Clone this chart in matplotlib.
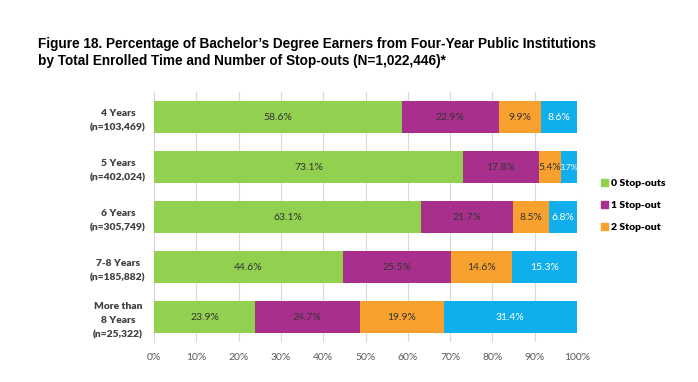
import numpy as np
import matplotlib
matplotlib.use('Agg')
import matplotlib.pyplot as plt
from matplotlib.patches import Patch

# data
categories = ['4 Years\n(n=103,469)', '5 Years\n(n=402,024)', '6 Years\n(n=305,749)',
              '7-8 Years\n(n=185,882)', 'More than\n8 Years\n(n=25,322)']
zero_stop = [58.6, 73.1, 63.1, 44.6, 23.9]
one_stop = [22.9, 17.8, 21.7, 25.5, 24.7]
two_stop = [9.9, 5.4, 8.5, 14.6, 19.9]
three_plus = [8.6, 3.7, 6.8, 15.3, 31.4]
series_names = ['0 Stop-outs', '1 Stop-out', '2 Stop-out', '3+ Stop-outs']
colors = ['#92D050', '#A8308C', '#F9A12E', '#10AEEC']
text_colors = ['#333333', '#333333', '#333333', '#FFFFFF']

body_font = ['Lato', 'DejaVu Sans']
title_font = ['Liberation Sans Narrow', 'Liberation Sans', 'DejaVu Sans']

fig = plt.figure(figsize=(6.98, 3.82), dpi=100)
ax = fig.add_axes([154/698, 1 - 342/382, (577-154)/698, (342-92)/382])

y = np.arange(len(categories))
left = np.zeros(len(categories))
for vals, col, tcol, name in zip([zero_stop, one_stop, two_stop, three_plus], colors, text_colors, series_names):
    vals = np.array(vals)
    bars = ax.barh(y, vals, left=left, height=0.64, color=col, label=name, zorder=3)
    for b, v in zip(bars, vals):
        # narrow segments get a smaller label, like the squeezed ones in the original
        fs = 7.5 if v >= 5 else 6.0
        ax.text(b.get_x() + b.get_width()/2, b.get_y() + b.get_height()/2, f'{v:.1f}%',
                ha='center', va='center', fontsize=fs, color=tcol, family=body_font, zorder=4)
    left += vals

ax.set_xlim(0, 100)
ax.set_ylim(4.5, -0.5)
ax.set_xticks(np.arange(0, 101, 10))
ax.set_xticklabels([f'{t}%' for t in range(0, 101, 10)], fontsize=7.5, color='#595959', family=body_font)
ax.set_yticks(y)
ax.set_yticklabels(categories, fontsize=7.4, fontweight='heavy', color='#404040',
                   family=body_font, multialignment='center', ha='center', linespacing=1.75)
ax.tick_params(axis='y', length=0, pad=26)
ax.tick_params(axis='x', length=0, pad=8)
ax.grid(axis='x', color='#D9D9D9', linewidth=0.8, zorder=0)
for s in ['top', 'right', 'bottom']:
    ax.spines[s].set_visible(False)
ax.spines['left'].set_color('#D9D9D9')

handles = [Patch(color=c) for c in colors[:3]]
fig.legend(handles, series_names[:3], loc='upper left', bbox_to_anchor=(592/698, 1 - 170/382),
           frameon=False, handlelength=0.6, handleheight=0.6, handletextpad=0.3, labelspacing=1.25,
           prop={'family': body_font, 'weight': 'heavy', 'size': 7.5})

fig.text(38/698, 1 - 37/382,
         'Figure 18. Percentage of Bachelor\u2019s Degree Earners from Four-Year Public Institutions\n'
         'by Total Enrolled Time and Number of Stop-outs (N=1,022,446)*',
         ha='left', va='top', fontsize=9.8, fontweight='bold', family=title_font, linespacing=1.25)

fig.savefig('out.png', dpi=100)
